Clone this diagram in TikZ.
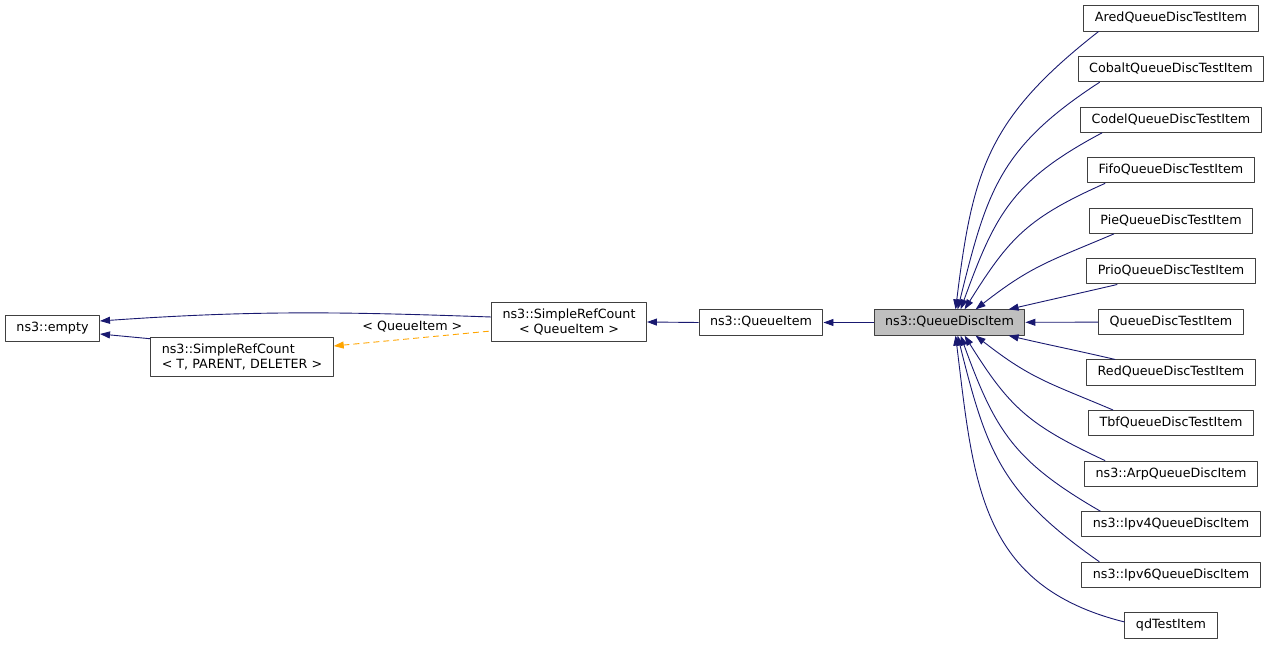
\documentclass[tikz,border=0pt]{standalone}
\usepackage{fontspec}
\setmainfont{DejaVu Sans}
\usetikzlibrary{arrows.meta}
\definecolor{edgeblue}{RGB}{25,25,112}
\definecolor{tmplorange}{RGB}{255,165,0}
\definecolor{boxgray}{RGB}{191,191,191}
\begin{document}
\begin{tikzpicture}[x=1pt,y=1pt,>={Triangle[length=10pt,width=7pt]},font=\fontsize{12.7}{15}\selectfont,line join=round,
cls/.style={draw=black!75,line width=1pt,inner xsep=11pt,inner ysep=6.5pt,text height=9.5pt,text depth=2.7pt},
cls2/.style={draw=black!75,line width=1pt,inner xsep=11pt,inner ysep=3pt,minimum height=39.5pt},
inh/.style={<-,draw=edgeblue,line width=0.9pt},
tmpl/.style={<-,draw=tmplorange,dashed,dash pattern=on 6pt off 4pt,line width=0.9pt}]
\useasboundingbox (0,0) rectangle (1272,645);
\node[cls] (empty) at (52.5,316.5) {ns3::empty};
\node[cls2,align=left] (srcT) at (242,288) {ns3::SimpleRefCount\\< T, PARENT, DELETER >};
\node[cls2,align=center] (srcQ) at (569,323) {ns3::SimpleRefCount\\< QueueItem >};
\node[cls] (qi) at (761,322.5) {ns3::QueueItem};
\node[cls,fill=boxgray] (qdi) at (949.5,322.5) {ns3::QueueDiscItem};
\foreach \n/\t [count=\k] in {ared/AredQueueDiscTestItem,cobalt/CobaltQueueDiscTestItem,codel/CodelQueueDiscTestItem,fifo/FifoQueueDiscTestItem,pie/PieQueueDiscTestItem,prio/PrioQueueDiscTestItem,qdti/QueueDiscTestItem,red/RedQueueDiscTestItem,tbf/TbfQueueDiscTestItem,arp/ns3::ArpQueueDiscItem,ipv4/ns3::Ipv4QueueDiscItem,ipv6/ns3::Ipv6QueueDiscItem,qd/qdTestItem}
  \node[cls] (\n) at (1171,{626.5-50.58*(\k-1)}) {\t};
\draw[inh] ([yshift=7.5]empty.east) to[out=4,in=178] ([yshift=5]srcQ.west);
\draw[inh] ([yshift=-5.5]empty.east) -- ([yshift=-2]srcT.north west);
\draw[tmpl] ([yshift=11]srcT.east) -- ([yshift=-9]srcQ.west) node[midway,above=3pt] (lbl) {< QueueItem >};
\draw[inh] (srcQ.east) -- (qi.west);
\draw[inh] (qi) -- (qdi);
\draw[inh] (qdi) -- (qdti);
\foreach \n/\e/\s/\o/\i in {ared/82/15/83/218,cobalt/84/22/76/213,codel/87/22/70/208,fifo/91/18/58/204,pie/102/25/38/203,prio/135/31/13/193}
  \draw[inh] ([xshift=\e]qdi.north west) to[out=\o,in=\i,looseness=1.15] ([xshift=\s]\n.south west);
\foreach \n/\e/\s/\o/\i in {red/135/29/-13/167,tbf/102/25/-38/157,arp/91/21/-58/155,ipv4/87/19/-70/150,ipv6/84/18/-76/145}
  \draw[inh] ([xshift=\e]qdi.south west) to[out=\o,in=\i,looseness=1.15] ([xshift=\s]\n.north west);
\draw[inh] ([xshift=82]qdi.south west) to[out=-83,in=166,looseness=1.15] ([yshift=3.5]qd.west);
\end{tikzpicture}
\end{document}
